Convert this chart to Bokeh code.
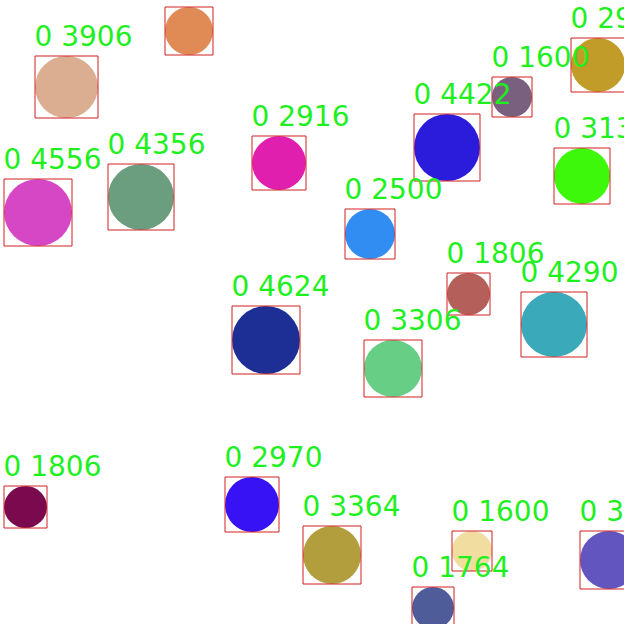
from bokeh.plotting import figure
from bokeh.models import ColumnDataSource, Range1d
from bokeh.core.properties import value
from bokeh.embed import file_html
from bokeh.resources import INLINE

# detected boxes, image pixel coordinates (left, top, right, bottom)
box_left = [164, 34, 3, 107, 251, 413, 491, 570, 553, 344, 231, 446, 520, 363, 3, 224, 302, 451, 411, 579]
box_top = [6, 55, 178, 163, 135, 113, 76, 37, 147, 208, 305, 272, 291, 339, 485, 476, 525, 530, 586, 530]
box_right = [212, 97, 71, 173, 305, 479, 531, 624, 609, 394, 299, 489, 586, 421, 46, 278, 360, 491, 453, 637]
box_bottom = [54, 117, 245, 229, 189, 180, 116, 91, 203, 258, 373, 314, 356, 396, 527, 531, 583, 570, 628, 588]
class_id = [0] * 20
areas = [2304, 3906, 4556, 4356, 2916, 4422, 1600, 2916, 3136, 2500,
         4624, 1806, 4290, 3306, 1806, 2970, 3364, 1600, 1764, 3364]
colors = ["#E08A55", "#DBAE91", "#D647C6", "#6A9E7E", "#E11FAE", "#2B1CDB", "#79607E",
          "#C29C28", "#3EF80C", "#318DF2", "#1D2E95", "#B55F5A", "#3AA9B9", "#67CF85",
          "#7A0A4D", "#3612F5", "#B39E3E", "#F2DDA0", "#4F5C9A", "#6355C0"]

src = ColumnDataSource(dict(
    left=[a + 0.5 for a in box_left], top=[a + 0.5 for a in box_top],
    right=[a + 0.5 for a in box_right], bottom=[a + 0.5 for a in box_bottom],
    cx=[(a + b) / 2 + 0.5 for a, b in zip(box_left, box_right)],
    cy=[(a + b) / 2 + 0.5 for a, b in zip(box_top, box_bottom)],
    w=[b - a for a, b in zip(box_left, box_right)],
    h=[b - a for a, b in zip(box_top, box_bottom)],
    color=colors,
))

# labels sit 10px above each box; ones that would land above the image are not drawn
keep = [i for i, t in enumerate(box_top) if t - 10 > 20]
lab = ColumnDataSource(dict(
    lx=[box_left[i] for i in keep],
    ly=[box_top[i] - 10 for i in keep],
    label=["%d %d" % (class_id[i], areas[i]) for i in keep],
))

p = figure(width=624, height=624, output_backend="svg", toolbar_location=None,
           x_range=Range1d(0, 624), y_range=Range1d(624, 0), min_border=0)
p.axis.visible = False
p.grid.visible = False
p.outline_line_color = None
p.background_fill_color = "white"

p.ellipse(x="cx", y="cy", width="w", height="h", fill_color="color", line_color=None, source=src)
p.quad(left="left", right="right", top="top", bottom="bottom", fill_color=None,
       line_color="#D01E1E", line_width=1, source=src)
p.text(x="lx", y="ly", text="label", text_color="#1EF01E", text_font=value("DejaVu Sans"),
       text_font_size="28px", text_baseline="alphabetic", y_offset=-9, source=lab)

open("out.html", "w").write(file_html(p, INLINE))
